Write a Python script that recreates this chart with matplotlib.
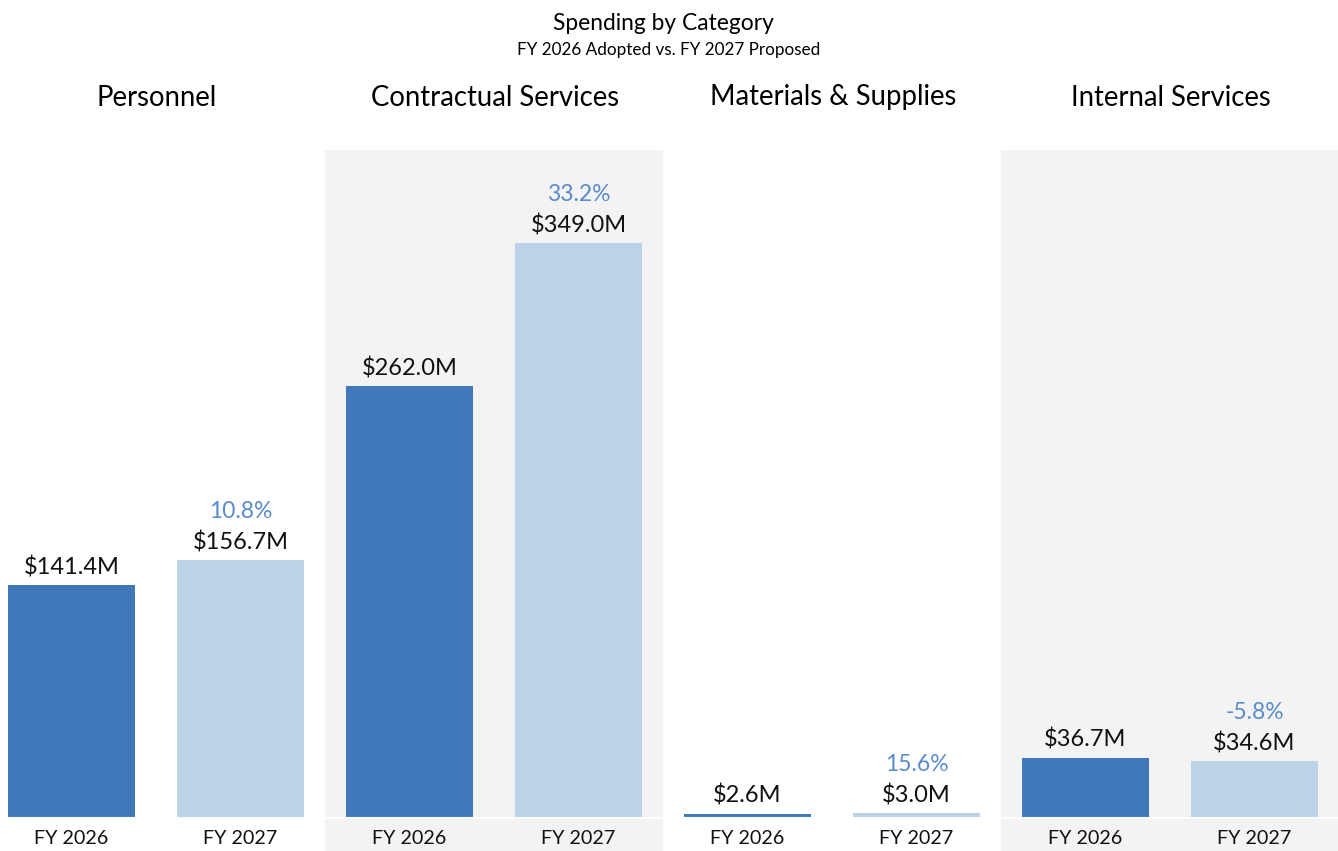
import matplotlib.pyplot as plt

plt.rcParams['font.family'] = ['Lato', 'DejaVu Sans']

categories = ['Personnel', 'Contractual Services', 'Materials & Supplies', 'Internal Services']
years = ['FY 2026', 'FY 2027']
fy2026 = [141.4, 262.0, 2.6, 36.7]
fy2027 = [156.7, 349.0, 3.0, 34.6]
pct_change = ['10.8%', '33.2%', '15.6%', '-5.8%']

dark_blue = '#4178b9'
light_blue = '#bcd2e7'
pct_blue = '#5a8ccc'
panel_grey = '#f3f3f3'

W, H = 1338, 851
fig = plt.figure(figsize=(W / 100, H / 100), dpi=100)

fig.text(663 / W, 1 - 24 / H, 'Spending by Category', ha='center', va='center', fontsize=16.4)
fig.text(669 / W, 1 - 50 / H, 'FY 2026 Adopted vs. FY 2027 Proposed', ha='center', va='center', fontsize=12.3)

panel_w = 338
left0 = -13
top_px, bot_px, base_px = 150, 851, 818
px_per_m = 1.647
ymax = (base_px - top_px) / px_per_m
ymin = -(bot_px - base_px) / px_per_m

for i, cat in enumerate(categories):
    x0 = left0 + panel_w * i
    ax = fig.add_axes([x0 / W, 1 - bot_px / H, panel_w / W, (bot_px - top_px) / H])
    ax.set_xlim(-0.5, 1.5)
    ax.set_ylim(ymin, ymax)
    ax.set_facecolor(panel_grey if i % 2 == 1 else 'white')
    for s in ax.spines.values():
        s.set_visible(False)
    ax.set_xticks([])
    ax.set_yticks([])

    vals = [fy2026[i], fy2027[i]]
    ax.bar([0, 1], vals, width=0.75, color=[dark_blue, light_blue], zorder=2)
    ax.axhline(0, color='white', lw=1.5, zorder=3)

    for j, v in enumerate(vals):
        ax.annotate(f'${v:.1f}M', (j, v), xytext=(0, 12.8), textcoords='offset points',
                    ha='center', va='center', fontsize=17, color='#111111')
        ax.text(j, ymin / 2 - 2.3, years[j], ha='center', va='center', fontsize=14.2, color='#111111')
    ax.annotate(pct_change[i], (1, vals[1]), xytext=(0, 35), textcoords='offset points',
                ha='center', va='center', fontsize=16.5, color=pct_blue)

    fig.text((x0 + panel_w / 2 + 1) / W, 1 - 97.5 / H, cat, ha='center', va='center', fontsize=19.8)

fig.savefig('out.png', dpi=100)
